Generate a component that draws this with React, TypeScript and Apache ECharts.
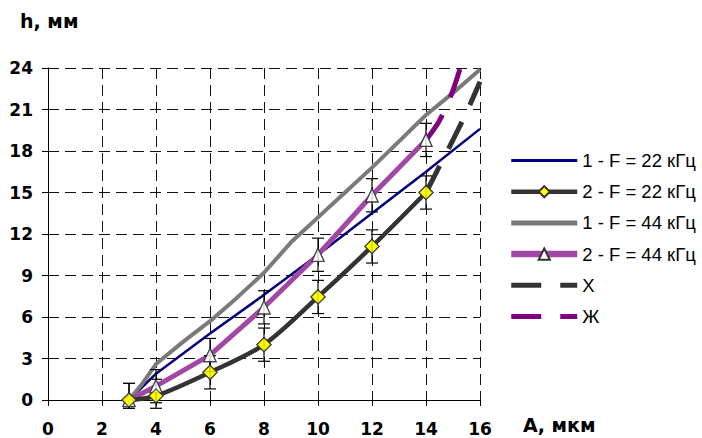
import { useEffect, useRef } from 'react';
import * as echarts from 'echarts';

const FONT = '"DejaVu Sans", sans-serif';
const LEG_FONT = '"Liberation Sans", Arial, sans-serif';

const seriesNames = ['1 - F = 22 кГц', '2 - F = 22 кГц', '1 - F = 44 кГц', '2 - F = 44 кГц', 'Х', 'Ж'];

// 1 - F = 22 kHz (straight navy line)
const navyX = [3, 4, 6, 8, 10, 12, 14, 16];
const navyY = [0, 1.9, 4.8, 7.6, 10.5, 13.5, 16.5, 19.6];

// 1 - F = 44 kHz (grey stepped line)
const grayX = [3, 3.5, 4, 5, 6, 7, 8, 9, 10, 11, 12, 13, 14, 15, 16];
const grayY = [0, 1.2, 2.6, 4.2, 5.7, 7.4, 9.2, 11.4, 13.2, 15.0, 16.8, 18.7, 20.6, 22.2, 23.9];

// measured points (markers)
const markX = [3, 4, 6, 8, 10, 12, 14];
const darkY = [0, 0.3, 2, 4, 7.45, 11.1, 15];      // 2 - F = 22 kHz
const purpleY = [0, 1.0, 3.25, 6.7, 10.5, 14.8, 18.8]; // 2 - F = 44 kHz
const errHalf = 1.2;
const errFloor = -0.6;

// extrapolations
const xDashX = [14, 14.5, 15, 15.5, 16];
const xDashY = [15, 16.9, 18.8, 20.8, 23];
const zhX = [14, 14.5, 15, 15.5];
const zhY = [18.8, 20.2, 22.4, 25.5];

const pairs = (xs: number[], ys: number[]) => xs.map((x, i) => [x, ys[i]]);

export default function App() {
  const ref = useRef<HTMLDivElement>(null);
  useEffect(() => {
    if (!ref.current) return;
    const chart = echarts.init(ref.current, undefined, { renderer: 'svg' });

    const errData: number[][] = [];
    markX.forEach((x, i) => {
      errData.push([x, Math.max(errFloor, darkY[i] - errHalf), darkY[i] + errHalf]);
      errData.push([x, Math.max(errFloor, purpleY[i] - errHalf), purpleY[i] + errHalf]);
    });

    const gridLine = { color: '#111', width: 1, type: [11, 6] as number[] };
    const axisLabel = { color: '#000', fontFamily: FONT, fontWeight: 'bold' as const, fontSize: 17 };
    const hideSym = { color: 'transparent', borderWidth: 0, opacity: 0 };

    const option: any = {
      animation: false,
      backgroundColor: '#fff',
      grid: { left: 48, top: 68, width: 432, height: 332 },
      xAxis: {
        type: 'value', min: 0, max: 16, interval: 2,
        axisLine: { show: true, onZero: true, lineStyle: { color: '#000', width: 1 } },
        axisTick: { show: true, length: 6, lineStyle: { color: '#000' } },
        axisLabel: { ...axisLabel, margin: 20 },
        splitLine: { show: true, lineStyle: gridLine },
      },
      yAxis: {
        type: 'value', min: 0, max: 24, interval: 3,
        axisLine: { show: true, lineStyle: { color: '#000', width: 1 } },
        axisTick: { show: true, length: 6, lineStyle: { color: '#000' } },
        axisLabel: { ...axisLabel, margin: 15 },
        splitLine: { show: true, lineStyle: gridLine },
      },
      legend: {
        orient: 'vertical', left: 508, top: 151, padding: 0,
        itemWidth: 66, itemHeight: 14, itemGap: 12.2,
        data: [
          { name: seriesNames[0], itemStyle: hideSym, lineStyle: { width: 3 } },
          { name: seriesNames[1], lineStyle: { width: 4.5 } },
          { name: seriesNames[2], itemStyle: hideSym, lineStyle: { width: 5 } },
          { name: seriesNames[3], lineStyle: { width: 6.5 } },
          { name: seriesNames[4], itemStyle: hideSym, lineStyle: { width: 5 } },
          { name: seriesNames[5], itemStyle: hideSym, lineStyle: { width: 5 } },
        ],
        textStyle: { fontFamily: LEG_FONT, fontSize: 18.5, color: '#000' },
      },
      graphic: [
        { type: 'text', x: 20, y: 21, style: { text: 'h, мм', fontFamily: FONT, fontWeight: 'bold', fontSize: 19, fill: '#000', verticalAlign: 'middle', align: 'left' } },
        { type: 'text', x: 523, y: 425, style: { text: 'А, мкм', fontFamily: FONT, fontWeight: 'bold', fontSize: 19, fill: '#000', verticalAlign: 'middle', align: 'left' } },
      ],
      series: [
        {
          name: seriesNames[0], type: 'line', data: pairs(navyX, navyY), symbol: 'none',
          lineStyle: { color: '#000080', width: 2.5 }, itemStyle: { color: '#000080' }, z: 2,
        },
        {
          name: seriesNames[2], type: 'line', data: pairs(grayX, grayY), symbol: 'none',
          lineStyle: { color: '#7a7a7a', width: 4 }, itemStyle: { color: '#7a7a7a' }, z: 2,
        },
        {
          name: seriesNames[3], type: 'line', data: pairs(markX, purpleY),
          symbol: 'triangle', symbolSize: [12, 13], showAllSymbol: true,
          lineStyle: { color: '#a347a6', width: 5 },
          itemStyle: { color: '#ffffff', borderColor: '#333', borderWidth: 1.2 }, z: 2,
        },
        {
          name: seriesNames[1], type: 'line', data: pairs(markX, darkY), smooth: 0.3,
          symbol: 'diamond', symbolSize: 14, showAllSymbol: true,
          lineStyle: { color: '#333333', width: 4.5 },
          itemStyle: { color: '#ffff00', borderColor: '#333', borderWidth: 1.2 }, z: 2,
        },
        {
          name: seriesNames[4], type: 'line', data: pairs(xDashX, xDashY), symbol: 'none', smooth: 0.3,
          lineStyle: { color: '#333333', width: 5, type: [30, 19] }, itemStyle: { color: '#333333' }, z: 2,
        },
        {
          name: seriesNames[5], type: 'line', data: pairs(zhX, zhY), symbol: 'none', smooth: 0.3,
          lineStyle: { color: '#800080', width: 5, type: [30, 19] }, itemStyle: { color: '#800080' }, z: 2,
        },
        {
          name: 'err', type: 'custom', data: errData, z: 3, clip: false,
          encode: { x: 0, y: [1, 2] },
          renderItem: (_p: any, api: any) => {
            const x = api.value(0);
            const top = api.coord([x, api.value(2)]);
            const bot = api.coord([x, api.value(1)]);
            const hw = 6;
            const st = { stroke: '#000', lineWidth: 1.2 };
            return {
              type: 'group',
              children: [
                { type: 'line', shape: { x1: top[0], y1: top[1], x2: bot[0], y2: bot[1] }, style: st },
                { type: 'line', shape: { x1: top[0] - hw, y1: top[1], x2: top[0] + hw, y2: top[1] }, style: st },
                { type: 'line', shape: { x1: bot[0] - hw, y1: bot[1], x2: bot[0] + hw, y2: bot[1] }, style: st },
              ],
            };
          },
        },
        {
          name: 'tri-mk', type: 'scatter', data: pairs(markX, purpleY), symbol: 'triangle', symbolSize: [12, 13],
          itemStyle: { color: '#ffffff', borderColor: '#333', borderWidth: 1.2 }, z: 4,
        },
        {
          name: 'dia-mk', type: 'scatter', data: pairs(markX, darkY), symbol: 'diamond', symbolSize: 14,
          itemStyle: { color: '#ffff00', borderColor: '#333', borderWidth: 1.2 }, z: 4,
        },
      ],
    };
    chart.setOption(option);
    return () => chart.dispose();
  }, []);
  return <div ref={ref} style={{ width: 702, height: 438, position: 'absolute', left: 0, top: 0 }} />;
}
